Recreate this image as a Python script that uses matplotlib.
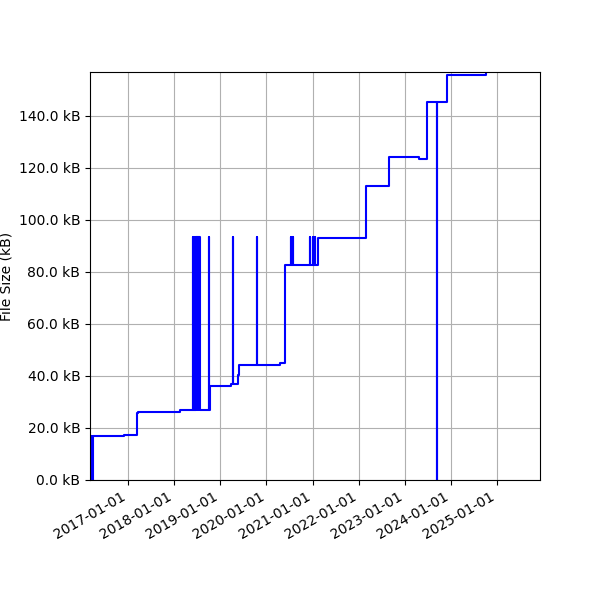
import matplotlib
matplotlib.use("Agg")
import matplotlib.pyplot as plt
import matplotlib.dates as mdates
from matplotlib.ticker import FuncFormatter
import numpy as np

# commit dates and file sizes (kB)
dates = [
    "2016-03-05", "2016-03-22", "2016-03-29", "2016-11-29", "2017-03-13", "2017-03-21",
    "2018-02-16",
    "2018-05-30", "2018-06-02", "2018-06-05", "2018-06-08", "2018-06-12", "2018-06-15",
    "2018-06-19", "2018-06-22", "2018-06-26", "2018-06-29", "2018-07-03", "2018-07-06",
    "2018-07-10", "2018-07-13", "2018-07-17", "2018-07-20",
    "2018-10-03", "2018-10-05", "2018-10-12",
    "2019-03-27", "2019-04-11", "2019-04-13", "2019-05-18", "2019-05-26", "2019-06-02",
    "2019-10-18", "2019-10-20",
    "2020-04-17", "2020-05-27",
    "2020-07-12", "2020-07-14", "2020-07-20", "2020-07-23", "2020-07-27", "2020-07-29",
    "2020-12-11", "2020-12-13", "2021-01-04", "2021-01-07", "2021-01-12", "2021-01-15",
    "2021-01-20", "2021-01-23", "2021-02-13",
    "2022-02-27", "2022-08-28", "2023-04-22", "2023-06-25", "2023-09-12", "2023-09-14",
    "2023-11-30", "2024-05-15", "2024-10-05",
]
sizes_kb = [
    16.9, 0.0, 16.9, 17.4, 25.6, 26.3,
    26.9,
    93.3, 26.9, 93.3, 26.9, 93.3, 26.9,
    93.3, 26.9, 93.3, 26.9, 93.3, 26.9,
    93.3, 26.9, 93.3, 26.9,
    93.3, 26.9, 36.2,
    37.0, 93.3, 37.0, 40.5, 44.3, 44.3,
    93.3, 44.3,
    44.8, 82.7,
    93.3, 82.7, 93.3, 82.7, 93.3, 82.7,
    93.3, 82.7, 93.3, 82.7, 93.3, 82.7,
    93.3, 82.7, 93.1,
    113.1, 124.0, 123.5, 145.3, 0.0, 145.3,
    155.5, 155.8, 156.8,
]
x_limits = ("2016-03-05", "2025-12-06")

x = np.array(dates, dtype="datetime64[D]")
y = np.array(sizes_kb) * 1000  # bytes

fig, ax = plt.subplots(figsize=(6, 6), dpi=100)
ax.plot(x, y, color="blue", drawstyle="steps-post", linewidth=1.5)

ax.set_xlim(np.datetime64(x_limits[0]), np.datetime64(x_limits[1]))
ax.set_ylim(0, y.max())
ax.xaxis.set_major_locator(mdates.YearLocator())
ax.xaxis.set_major_formatter(mdates.DateFormatter("%Y-%m-%d"))
ax.yaxis.set_major_locator(plt.MultipleLocator(20000))
ax.yaxis.set_major_formatter(FuncFormatter(lambda v, _: f"{v / 1000:.1f} kB"))
ax.set_ylabel("File Size (kB)")
ax.grid(True)

fig.autofmt_xdate()
fig.subplots_adjust(left=0.15, right=0.9, top=0.88, bottom=0.2)
fig.savefig("out.png")
